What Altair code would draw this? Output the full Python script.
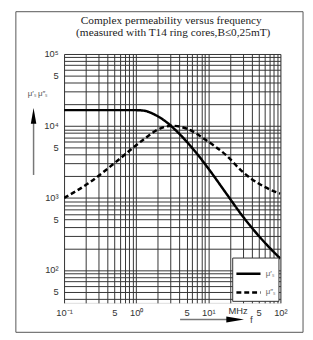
import altair as alt
import pandas as pd

# ---- data ----
freq_real = [0.1, 0.5, 1.0, 1.3, 1.7, 2.7, 3.7, 6.9, 10.4, 17.8, 30, 53, 85, 100]
mu_real = [16600, 16600, 16600, 16300, 14800, 11100, 8340, 4170, 2440, 1150, 557, 279, 169, 144]

freq_imag = [0.1, 0.233, 0.56, 1.31, 1.97, 3.16, 5.07, 9.5, 17.8, 30, 85, 100]
mu_imag = [1000, 1675, 3350, 6680, 8870, 10070, 9160, 6280, 3900, 2300, 1220, 1150]

series_names = ["μ′ₛ", "μ″ₛ"]

title_lines = ["Complex permeability versus frequency",
               "(measured with T14 ring cores,B≤0,25mT)"]

x_grid = [m * 10 ** e for e in (-1, 0, 1) for m in range(1, 10)] + [100]
y_grid = [m * 10 ** e for e in (1, 2, 3, 4) for m in range(1, 10) if m * 10 ** e >= 35] + [100000]

x_labels = {0.1: "10⁻¹", 0.5: "5", 1: "10⁰", 5: "5", 10: "10¹", 50: "5", 100: "10²"}
y_labels = {100000: "10⁵", 50000: "5", 10000: "10⁴", 5000: "5", 1000: "10³",
            500: "5", 100: "10²", 50: "5"}


def label_expr(d):
    s = ""
    for k, v in d.items():
        s += f"datum.value == {k} ? '{v}' : "
    return s + "''"


df = pd.DataFrame({
    "f": freq_real + freq_imag,
    "mu": mu_real + mu_imag,
    "series": [series_names[0]] * len(freq_real) + [series_names[1]] * len(freq_imag),
})

W, H = 220, 253
FONT = "Liberation Sans"

x_enc = alt.X("f:Q", scale=alt.Scale(type="log", domain=[0.1, 100], nice=False, zero=False),
              axis=alt.Axis(values=x_grid, labelExpr=label_expr(x_labels), title=None,
                            grid=True, gridColor="#333", gridWidth=1, ticks=False,
                            domain=False, labelFont=FONT, labelFontSize=9.5, labelColor="#333",
                            labelPadding=5, labelFlush=False, labelOverlap=False))
y_enc = alt.Y("mu:Q", scale=alt.Scale(type="log", domain=[35, 100000], nice=False, zero=False),
              axis=alt.Axis(values=y_grid, labelExpr=label_expr(y_labels), title=None,
                            grid=True, gridColor="#333", gridWidth=1, ticks=False,
                            domain=False, labelFont=FONT, labelFontSize=9.5, labelColor="#333",
                            labelPadding=6, labelFlush=False, labelOverlap=False))

lines = alt.Chart(df).mark_line(interpolate="monotone", strokeWidth=2.5, color="black", clip=True).encode(
    x=x_enc,
    y=y_enc,
    strokeDash=alt.StrokeDash(
        "series:N",
        scale=alt.Scale(domain=series_names, range=[[1, 0], [5, 3]]),
        legend=alt.Legend(title=None, orient="bottom-right", offset=2, fillColor="white",
                          strokeColor="#333", padding=3, symbolType="stroke", symbolSize=600,
                          symbolStrokeWidth=2.5, symbolStrokeColor="black",
                          labelFont=FONT, labelFontSize=8, labelColor="#666",
                          rowPadding=0, symbolOffset=0, labelOffset=4),
    ),
)

dummy = pd.DataFrame({"a": [0]})
OX, OY = 65, 52  # plot origin in page pixels

frame = alt.Chart(dummy).mark_rect(fill=None, stroke="#555", strokeWidth=1).encode(
    x=alt.value(16 - OX), x2=alt.value(308 - OX), y=alt.value(9 - OY), y2=alt.value(335 - OY))

title1 = alt.Chart(dummy).mark_text(font="Liberation Serif", fontSize=11.5, color="#222").encode(
    x=alt.value(174 - OX), y=alt.value(18 - OY), text=alt.value(title_lines[0]))
title2 = alt.Chart(dummy).mark_text(font="Liberation Serif", fontSize=11.5, color="#222").encode(
    x=alt.value(176 - OX), y=alt.value(31 - OY), text=alt.value(title_lines[1]))

y_title = alt.Chart(dummy).mark_text(font=FONT, fontSize=8, color="#555").encode(
    x=alt.value(38 - OX), y=alt.value(93 - OY), text=alt.value("μ′ₛ μ″ₛ"))
y_arrow = alt.Chart(dummy).mark_rule(color="#777", strokeWidth=1.5).encode(
    x=alt.value(34 - OX), y=alt.value(118 - OY), y2=alt.value(175 - OY))
y_head = alt.Chart(dummy).mark_point(shape="M0,-1L0.35,1L-0.35,1Z", filled=True, color="black",
                                     size=256, opacity=1).encode(
    x=alt.value(34 - OX), y=alt.value(115 - OY))

x_arrow = alt.Chart(dummy).mark_rule(color="#777", strokeWidth=1.5).encode(
    x=alt.value(183 - OX), x2=alt.value(235 - OX), y=alt.value(322 - OY))
x_head = alt.Chart(dummy).mark_point(shape="M1,0L-1,0.35L-1,-0.35Z", filled=True, color="black",
                                     size=324, opacity=1).encode(
    x=alt.value(239 - OX), y=alt.value(322 - OY))
f_text = alt.Chart(dummy).mark_text(font=FONT, fontSize=10, color="#444", align="left").encode(
    x=alt.value(254 - OX), y=alt.value(323 - OY), text=alt.value("f"))
mhz_text = alt.Chart(dummy).mark_text(font=FONT, fontSize=9.5, color="#333").encode(
    x=alt.value(242 - OX), y=alt.value(313 - OY), text=alt.value("MHz"))

chart = alt.layer(lines, frame, title1, title2, y_title, y_arrow, y_head, x_arrow, x_head,
                  f_text, mhz_text).properties(
    width=W, height=H,
    autosize=alt.AutoSizeParams(type="none"),
    padding={"left": OX - 8, "top": OY - 8, "right": 25, "bottom": 32},
).configure_view(stroke="black", strokeWidth=4).configure(background="white")

chart.save("out.html", embed_options={"renderer": "svg", "actions": False})
